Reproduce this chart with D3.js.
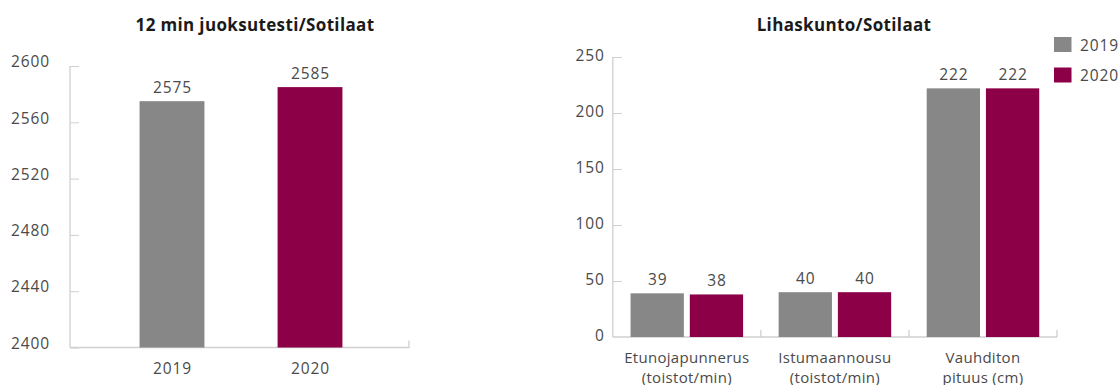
<!DOCTYPE html>
<html>
<head>
<meta charset="utf-8">
<script src="https://cdn.jsdelivr.net/npm/d3@7"></script>
<style>
  html, body { margin: 0; padding: 0; background: #fff; }
  svg { display: block; }
  text { font-family: "Open Sans", "Noto Sans", sans-serif; }
</style>
</head>
<body>
<svg id="chart" width="1119" height="385"></svg>
<script>
// Running test (12 min) averages
const runYears = ["2019", "2020"];
const runValues = [2575, 2585];
const runTicks = [2400, 2440, 2480, 2520, 2560, 2600];

// Muscle fitness averages by test
const fitCategories = [
  ["Etunojapunnerus", "(toistot/min)"],
  ["Istumaannousu", "(toistot/min)"],
  ["Vauhditon", "pituus (cm)"]
];
const fitSeries = ["2019", "2020"];
const fit2019 = [39, 40, 222];
const fit2020 = [38, 40, 222];
const fitTicks = [0, 50, 100, 150, 200, 250];

const colors = { "2019": "#878787", "2020": "#8c0047" };
const axisColor = "#cfcfcf";
const labelColor = "#4a4a4a";
const numSize = 15.5, numSpacing = 0.9;

const svg = d3.select("#chart");

function numText(sel) {
  return sel.attr("font-size", numSize).attr("letter-spacing", numSpacing).attr("fill", labelColor);
}

// ---------- Left: 12 min juoksutesti ----------
const L = { x0: 70, x1: 409, yTop: 66, yBase: 347.5 };
const ly = d3.scaleLinear().domain([2400, 2600]).range([L.yBase, L.yTop]);
const lx = d3.scaleBand().domain(runYears).range([103, 379])
  .paddingInner(0.53).paddingOuter(0.265);

const left = svg.append("g");
left.append("text")
  .attr("x", 255).attr("y", 31)
  .attr("text-anchor", "middle")
  .attr("font-size", 17).attr("letter-spacing", 0.35)
  .attr("font-weight", 700).attr("fill", "#1a1a1a")
  .text("12 min juoksutesti/Sotilaat");

const lAxis = left.append("g")
  .attr("transform", `translate(${L.x0},0)`)
  .call(d3.axisRight(ly).tickValues(runTicks).tickSize(9).tickFormat(d3.format("d")));
lAxis.select(".domain").remove();
lAxis.selectAll(".tick line").attr("stroke", axisColor);
numText(lAxis.selectAll(".tick text"))
  .attr("x", -20).attr("dy", "0.05em")
  .attr("text-anchor", "end");
left.append("line")
  .attr("x1", L.x0).attr("x2", L.x0).attr("y1", L.yTop).attr("y2", L.yBase)
  .attr("stroke", axisColor).attr("stroke-width", 1.3);
left.append("path")
  .attr("d", `M${L.x0},${L.yBase}H${L.x1}V${L.yBase - 7}`)
  .attr("fill", "none").attr("stroke", axisColor).attr("stroke-width", 1.3);

left.selectAll("rect.bar").data(runYears).join("rect")
  .attr("class", "bar")
  .attr("x", d => lx(d)).attr("width", lx.bandwidth())
  .attr("y", (d, i) => ly(runValues[i]))
  .attr("height", (d, i) => ly(2400) - ly(runValues[i]))
  .attr("fill", d => colors[d]);

numText(left.selectAll("text.val").data(runYears).join("text"))
  .attr("class", "val")
  .attr("x", d => lx(d) + lx.bandwidth() / 2 + numSpacing / 2)
  .attr("y", (d, i) => ly(runValues[i]) - 8)
  .attr("text-anchor", "middle")
  .text((d, i) => runValues[i]);

numText(left.selectAll("text.cat").data(runYears).join("text"))
  .attr("class", "cat")
  .attr("x", d => lx(d) + lx.bandwidth() / 2 + numSpacing / 2)
  .attr("y", 374)
  .attr("text-anchor", "middle")
  .text(d => d);

// ---------- Right: Lihaskunto ----------
const R = { x0: 612.8, x1: 1057, yTop: 57, yBase: 337 };
const ry = d3.scaleLinear().domain([0, 250]).range([R.yBase, R.yTop]);
const rx = d3.scaleBand().domain(d3.range(fitCategories.length)).range([R.x0, R.x1]);
const rxInner = d3.scaleBand().domain(fitSeries).range([0, rx.bandwidth()])
  .paddingInner(0.1).paddingOuter(0.3);

const right = svg.append("g");
right.append("text")
  .attr("x", 844).attr("y", 31)
  .attr("text-anchor", "middle")
  .attr("font-size", 17).attr("letter-spacing", 0.35)
  .attr("font-weight", 700).attr("fill", "#1a1a1a")
  .text("Lihaskunto/Sotilaat");

const rAxis = right.append("g")
  .attr("transform", `translate(${R.x0},0)`)
  .call(d3.axisRight(ry).tickValues(fitTicks).tickSize(9).tickFormat(d3.format("d")));
rAxis.select(".domain").remove();
rAxis.selectAll(".tick line").attr("stroke", axisColor);
numText(rAxis.selectAll(".tick text"))
  .attr("x", -8).attr("dy", "0.2em")
  .attr("text-anchor", "end");
rAxis.selectAll(".tick").filter(d => d === 0).select("line").remove();
right.append("line")
  .attr("x1", R.x0).attr("x2", R.x0).attr("y1", R.yTop).attr("y2", R.yBase)
  .attr("stroke", axisColor).attr("stroke-width", 1.3);
right.append("line")
  .attr("x1", R.x0).attr("x2", R.x1).attr("y1", R.yBase).attr("y2", R.yBase)
  .attr("stroke", axisColor).attr("stroke-width", 1.3);
// category boundary ticks
const bounds = d3.range(1, fitCategories.length + 1).map(i => R.x0 + rx.step() * i);
right.selectAll("line.bt").data(bounds).join("line")
  .attr("class", "bt")
  .attr("x1", d => d).attr("x2", d => d)
  .attr("y1", R.yBase).attr("y2", R.yBase - 7)
  .attr("stroke", axisColor).attr("stroke-width", 1.3);

const fitData = [];
fitCategories.forEach((c, i) => {
  fitData.push({ cat: i, series: "2019", value: fit2019[i] });
  fitData.push({ cat: i, series: "2020", value: fit2020[i] });
});

right.selectAll("rect.bar").data(fitData).join("rect")
  .attr("class", "bar")
  .attr("x", d => rx(d.cat) + rxInner(d.series))
  .attr("width", rxInner.bandwidth())
  .attr("y", d => ry(d.value))
  .attr("height", d => ry(0) - ry(d.value))
  .attr("fill", d => colors[d.series]);

numText(right.selectAll("text.val").data(fitData).join("text"))
  .attr("class", "val")
  .attr("x", d => rx(d.cat) + rxInner(d.series) + rxInner.bandwidth() / 2 + numSpacing / 2)
  .attr("y", d => ry(d.value) - 8)
  .attr("text-anchor", "middle")
  .text(d => d.value);

const catLabels = right.selectAll("text.cat").data(fitCategories).join("text")
  .attr("class", "cat")
  .attr("x", (d, i) => rx(i) + rx.bandwidth() / 2)
  .attr("y", 363)
  .attr("text-anchor", "middle")
  .attr("font-size", 15).attr("letter-spacing", 0.3).attr("fill", labelColor);
catLabels.selectAll("tspan").data(d => d).join("tspan")
  .attr("x", function () { return d3.select(this.parentNode).attr("x"); })
  .attr("dy", (d, i) => i === 0 ? 0 : 19.5)
  .text(d => d);

// Legend
const legend = right.append("g").attr("transform", "translate(1054,37)");
fitSeries.forEach((s, i) => {
  const g = legend.append("g").attr("transform", `translate(0,${i * 30.5})`);
  g.append("rect").attr("width", 17.5).attr("height", 15).attr("fill", colors[s]);
  numText(g.append("text")).attr("x", 26).attr("y", 13.5).text(s);
});
</script>
</body>
</html>
